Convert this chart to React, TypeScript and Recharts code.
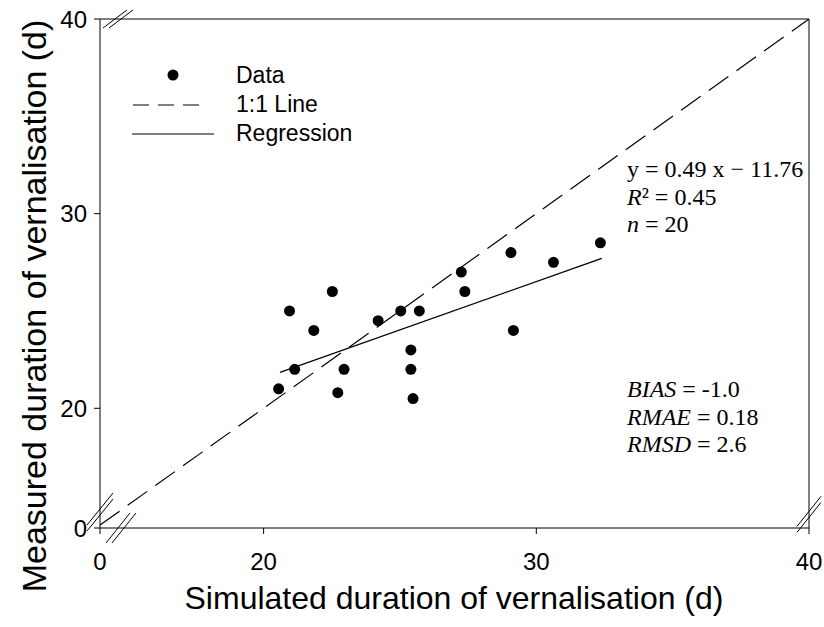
import { ScatterChart, Scatter, XAxis, YAxis, ReferenceLine, Customized } from "recharts";

const simulated = [20.55, 20.95, 21.14, 21.84, 22.52, 22.72, 22.95, 24.2, 25.03, 25.71, 25.4, 25.4, 25.48, 27.25, 27.38, 29.07, 29.16, 30.63, 32.35];
const measured = [21, 25, 22, 24, 26, 20.8, 22, 24.5, 25, 25, 23, 22, 20.5, 27, 26, 28, 24, 27.5, 28.5];

const oneToOne = [14, 40];
const regressionX = [20.6, 32.4];
const regressionY = [21.85, 27.7];

const xDomain = [14, 40];
const yDomain = [13.85, 40];
const xTicks = [14, 20, 30, 40];
const yTicks = [13.85, 20, 30, 40];

const legendLabels = ["Data", "1:1 Line", "Regression"];
const fitStats = [
  [{ t: "y = 0.49 x \u2212 11.76" }],
  [{ t: "R", i: true }, { t: "\u00b2 = 0.45" }],
  [{ t: "n", i: true }, { t: " = 20" }],
];
const errorStats = [
  [{ t: "BIAS", i: true }, { t: " = -1.0" }],
  [{ t: "RMAE", i: true }, { t: " = 0.18" }],
  [{ t: "RMSD", i: true }, { t: " = 2.6" }],
];

const W = 824;
const H = 627;
const M = { top: 19, right: 15, bottom: 39, left: 40 };
const PLOT_W = 709;
const PLOT_H = 509;
const SANS = "'Liberation Sans', Arial, sans-serif";
const SERIF = "'Liberation Serif', 'Times New Roman', serif";

const points = simulated.map((x, i) => ({ x, y: measured[i] }));
const lineOneToOne = oneToOne.map((v) => ({ x: v, y: v }));
const lineRegression = regressionX.map((x, i) => ({ x, y: regressionY[i] }));

// axis-break slashes, sized in pixels and converted to data units
const kx = (xDomain[1] - xDomain[0]) / PLOT_W;
const ky = (yDomain[1] - yDomain[0]) / PLOT_H;
function slashes(cx: number, cy: number, hx: number, hy: number, vertical: boolean) {
  return [-3, 3].map((o) => {
    const ox = vertical ? 0 : o * kx;
    const oy = vertical ? o * ky : 0;
    return [
      { x: cx - hx * kx + ox, y: cy - hy * ky + oy },
      { x: cx + hx * kx + ox, y: cy + hy * ky + oy },
    ];
  });
}
const breaks = [
  ...slashes(14.66, 40, 12, 9, false),
  ...slashes(14.77, 13.85, 12, 15, false),
  ...slashes(14, 14.67, 13, 16, true),
  ...slashes(40, 14.55, 12, 15, true),
];

function StatBlock({ lines, y0 }: { lines: { t: string; i?: boolean }[][]; y0: number }) {
  return (
    <text fontFamily={SERIF} fontSize={24} fill="#000">
      {lines.map((ln, k) => (
        <tspan key={k} x={627} y={y0 + k * 27.5}>
          {ln.map((s, j) => (
            <tspan key={j} fontStyle={s.i ? "italic" : "normal"}>{s.t}</tspan>
          ))}
        </tspan>
      ))}
    </text>
  );
}

function Overlay() {
  return (
    <g>
      {/* legend */}
      <circle cx={173} cy={75} r={5.5} fill="#000" />
      <line x1={133} y1={105} x2={208} y2={105} stroke="#000" strokeWidth={1.2} strokeDasharray="16 9" />
      <line x1={132} y1={134} x2={214} y2={134} stroke="#000" strokeWidth={1.2} />
      {legendLabels.map((l, i) => (
        <text key={l} x={236} y={83 + i * 29} fontFamily={SANS} fontSize={23} fill="#000">{l}</text>
      ))}
      <StatBlock lines={fitStats} y0={177} />
      <StatBlock lines={errorStats} y0={397} />
      {/* axis titles */}
      <text x={454} y={609} textAnchor="middle" fontFamily={SANS} fontSize={32} fill="#000">
        Simulated duration of vernalisation (d)
      </text>
      <text transform="translate(46, 306) rotate(-90)" textAnchor="middle" fontFamily={SANS} fontSize={34} fill="#000">
        Measured duration of vernalisation (d)
      </text>
    </g>
  );
}

const fmt = (v: number) => (v < 15 ? "0" : String(v));

export default function App() {
  return (
    <div style={{ position: "absolute", left: 0, top: 0, width: W, height: H, background: "#fff" }}>
      <ScatterChart width={W} height={H} margin={M}>
        <XAxis
          type="number"
          dataKey="x"
          domain={xDomain}
          ticks={xTicks}
          tickFormatter={fmt}
          allowDataOverflow
          height={60}
          tickSize={6}
          tickMargin={19}
          stroke="#000"
          tick={{ fill: "#000", fontSize: 24, fontFamily: SANS }}
        />
        <YAxis
          type="number"
          dataKey="y"
          domain={yDomain}
          ticks={yTicks}
          tickFormatter={fmt}
          allowDataOverflow
          width={60}
          tickSize={6}
          tickMargin={7}
          stroke="#000"
          tick={{ fill: "#000", fontSize: 24, fontFamily: SANS }}
        />
        <ReferenceLine y={40} stroke="#000" strokeWidth={1} />
        <ReferenceLine x={40} stroke="#000" strokeWidth={1} />
        {breaks.map((seg, i) => (
          <ReferenceLine key={i} segment={seg} stroke="#000" strokeWidth={1} ifOverflow="visible" />
        ))}
        <Scatter
          data={lineOneToOne}
          line={{ stroke: "#000", strokeWidth: 1.2, strokeDasharray: "24 10" }}
          shape={() => <g />}
          isAnimationActive={false}
        />
        <Scatter
          data={lineRegression}
          line={{ stroke: "#000", strokeWidth: 1.3 }}
          shape={() => <g />}
          isAnimationActive={false}
        />
        <Scatter
          data={points}
          shape={(p: any) => <circle cx={p.cx} cy={p.cy} r={5.5} fill="#000" />}
          isAnimationActive={false}
        />
        <Customized component={Overlay} />
      </ScatterChart>
    </div>
  );
}
